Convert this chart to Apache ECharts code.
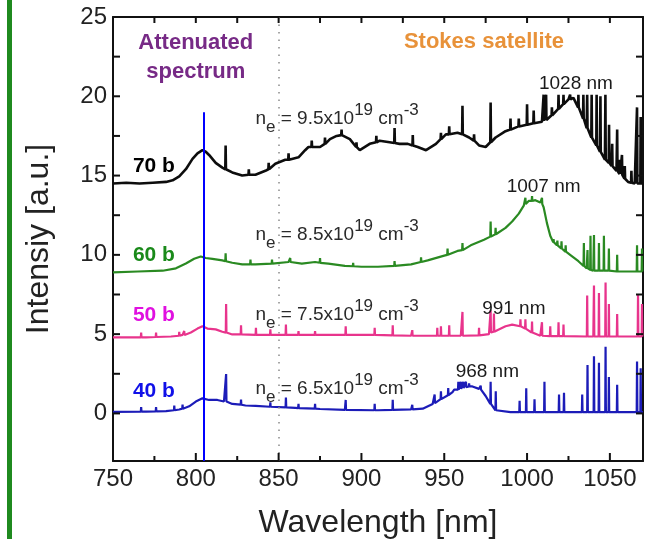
<!DOCTYPE html>
<html>
<head>
<meta charset="utf-8">
<script src="https://cdn.jsdelivr.net/npm/echarts@6/dist/echarts.min.js"></script>
<style>
  html, body { margin: 0; padding: 0; background: #fff; }
  #chart { width: 656px; height: 539px; }
</style>
</head>
<body>
<div id="chart"></div>
<script>
// Emission spectra at four backing pressures (shifted vertically).
// Each spectrum: a smooth continuum [wavelength nm, intensity] plus
// narrow emission lines [wavelength nm, continuum level, line top].

const xTickLabels = [750, 800, 850, 900, 950, 1000, 1050];
const yTickLabels = [0, 5, 10, 15, 20, 25];
const xMinorTicks = [775, 825, 875, 925, 975, 1025];
const yTicks = [0, 2.5, 5, 7.5, 10, 12.5, 15, 17.5, 20, 22.5];

const p70Continuum = [[750,14.5],[758,14.55],[766,14.5],[774,14.55],[782,14.6],[786,14.7],[790,14.95],[794,15.4],[798,16.05],[801,16.4],[804,16.6],[806,16.5],[808,16.3],[812,15.8],[816,15.5],[822,15.2],[828,15.0],[836,15.05],[842,15.3],[848,15.75],[854,16.0],[858,16.05],[862,16.15],[866,16.6],[868,16.8],[875,16.8],[881,17.3],[885,17.5],[888,17.55],[893,17.3],[899,16.6],[905,17.0],[911,17.2],[917,17.1],[923,17.0],[928,17.0],[934,16.8],[939,16.6],[945,17.0],[951,17.6],[958,17.7],[965,17.4],[971,16.9],[975,16.8],[981,17.4],[987,17.8],[995,18.1],[1002,18.25],[1009,18.4],[1015,18.8],[1019,19.2],[1025,19.8],[1028,19.9],[1031,19.3],[1034,18.6],[1036,18.0],[1039,17.4],[1042,16.9],[1044,16.5],[1047,16.0],[1051,15.6],[1054,15.3],[1057,15.05],[1061,14.6],[1065,14.5],[1070,14.5]];
const p70Lines = [[818,15.4,16.9],[832,15.05,15.4],[844,15.4,15.8],[856,16.0,16.4],[870,16.8,17.2],[878,17.0,17.4],[888,17.55,17.9],[897,16.8,17.1],[909,17.1,17.5],[920,17.05,18.0],[931,16.9,17.55],[948,17.3,17.7],[953,17.6,18.1],[961,17.6,19.4],[968,17.2,17.6],[978,17.1,19.6],[990,17.9,18.6],[995,18.1,18.6],[1000,18.2,19.5],[1004,18.3,19.1],[1010,18.45,20.1],[1011.5,18.5,20.1],[1015,18.8,19.3],[1019,19.2,20.1],[1022,19.5,20.1],[1026,19.8,20.1],[1031,19.3,20.1],[1034,18.6,20.1],[1036.3,18.0,20.1],[1039,17.4,20.1],[1042,16.9,20.1],[1044.3,16.5,20.0],[1047.3,16.0,20.1],[1049.5,15.8,18.2],[1051.4,15.6,17.0],[1054.4,15.3,17.9],[1056,15.1,16.0],[1057.3,15.05,16.3],[1059,14.8,15.6],[1063,14.55,15.3],[1066.4,14.5,19.3],[1068.6,14.5,18.7]];

const p60Continuum = [[750,8.9],[765,8.95],[780,9.0],[788,9.15],[794,9.45],[799,9.75],[803,9.9],[806,9.8],[810,9.75],[816,9.65],[822,9.5],[828,9.4],[836,9.4],[846,9.45],[856,9.55],[864,9.45],[872,9.55],[880,9.45],[890,9.3],[900,9.25],[910,9.25],[920,9.3],[930,9.4],[940,9.65],[950,9.95],[958,10.25],[966,10.6],[974,10.95],[982,11.35],[987,11.7],[991,12.1],[995,12.6],[998,13.1],[1001,13.4],[1005,13.45],[1008,13.3],[1010,13.0],[1012,12.0],[1014,11.2],[1018,10.6],[1022,10.3],[1026,10.0],[1031,9.6],[1036,9.15],[1040,9.0],[1055,8.95],[1070,8.95]];
const p60Lines = [[818,9.6,10.1],[833,9.4,9.7],[846,9.45,9.7],[857,9.55,9.8],[875,9.5,9.8],[895,9.28,9.5],[920,9.3,9.6],[936,9.55,9.85],[952,10.0,10.4],[961,10.3,10.75],[978,11.15,12.1],[981,11.3,11.7],[999,13.2,13.6],[1003,13.4,13.7],[1009,13.2,13.6],[1016,10.8,11.0],[1018.3,10.6,10.9],[1020.8,10.4,10.85],[1023.3,10.2,10.6],[1034.3,9.3,10.75],[1036.5,9.15,10.3],[1038.3,9.05,11.2],[1040.4,9.0,11.25],[1043.4,9.0,10.75],[1046.4,9.0,11.2],[1049.4,9.0,10.4],[1054.4,8.95,10.0],[1066.4,8.95,10.6],[1069.4,8.95,10.4]];

const p50Continuum = [[750,4.8],[770,4.8],[785,4.85],[792,4.95],[797,5.1],[801,5.35],[804,5.5],[807,5.35],[812,5.3],[816,5.15],[822,4.98],[840,4.95],[870,4.95],[900,4.95],[930,4.9],[960,4.9],[972,4.92],[977,5.0],[982,5.25],[987,5.5],[991,5.6],[996,5.5],[1000,5.3],[1004,5.0],[1008,4.9],[1040,4.85],[1070,4.85]];
const p50Lines = [[767,4.8,5.1],[776,4.82,5.1],[790,4.9,5.15],[793,4.95,5.2],[818.3,5.1,6.9],[827.3,4.98,5.56],[836.3,4.96,5.4],[845,4.95,5.3],[854.4,4.95,5.6],[862,4.95,5.2],[872,4.95,5.2],[890.5,4.95,5.5],[908,4.95,5.4],[918.9,4.92,5.56],[930.7,4.9,5.25],[945.8,4.9,5.4],[948,4.9,5.5],[953,4.9,5.56],[961,4.9,6.4],[971,4.92,5.4],[978,5.1,6.5],[980,5.15,6.3],[996,5.5,5.94],[999,5.35,5.94],[1003,5.1,5.8],[1009,4.9,5.75],[1014,4.88,5.5],[1019,4.87,5.75],[1022,4.87,5.6],[1036.3,4.85,7.44],[1040.4,4.85,8.06],[1043.4,4.85,7.6],[1047.4,4.85,8.25],[1049.4,4.85,6.9],[1054.4,4.85,6.27],[1067,4.85,7.52],[1069.4,4.85,6.9]];

const p40Continuum = [[750,0.1],[770,0.12],[782,0.15],[790,0.25],[796,0.45],[800,0.75],[804,0.95],[808,0.85],[813,0.85],[817,0.75],[822,0.6],[830,0.5],[845,0.42],[860,0.35],[875,0.28],[890,0.22],[910,0.2],[930,0.25],[937,0.3],[943,0.6],[949,1.0],[955,1.35],[961,1.6],[967,1.7],[971,1.55],[975,1.1],[978,0.6],[981,0.2],[990,0.08],[1070,0.08]];
const p40Lines = [[767,0.12,0.4],[776,0.13,0.4],[787,0.2,0.5],[792,0.3,0.55],[818.3,0.75,2.48],[827.3,0.55,0.88],[836.3,0.48,0.6],[845,0.42,0.7],[854.4,0.38,1.0],[862,0.34,0.6],[872,0.3,0.6],[890.5,0.22,0.85],[908,0.2,0.6],[918.9,0.22,0.86],[930.7,0.25,0.55],[944.2,0.65,1.19],[948,0.9,1.4],[952.4,1.15,1.6],[956,1.4,1.5],[958.5,1.5,2.0],[960,1.55,2.0],[961.5,1.6,2.0],[963.1,1.65,2.0],[965,1.7,1.9],[972,1.5,1.75],[978,0.6,2.0],[981.1,0.2,1.4],[995.5,0.08,0.8],[999.5,0.08,1.58],[1004.5,0.08,0.9],[1010.5,0.08,2.0],[1019.3,0.08,1.2],[1022.3,0.08,1.3],[1033.3,0.08,1.2],[1036.5,0.08,3.06],[1040.4,0.08,3.6],[1043.4,0.08,3.2],[1047.4,0.08,4.2],[1049.4,0.08,2.3],[1054.4,0.08,1.8],[1066.4,0.08,3.27],[1068.6,0.08,2.85]];

const pressures = ['70 b', '60 b', '50 b', '40 b'];
const densities = ['9.5', '8.5', '7.5', '6.5'];
const peakLabels = ['1028 nm', '1007 nm', '991 nm', '968 nm'];

// Merge continuum samples and narrow lines into one polyline
function buildSpectrum(continuum, lines) {
  const pts = continuum.map(p => [p[0], p[1]]);
  lines.forEach(([w, b, t]) => {
    pts.push([w - 0.2, b], [w, t], [w + 0.2, b]);
  });
  pts.sort((a, b) => a[0] - b[0]);
  return pts;
}

const FONT = '"Liberation Sans", Arial, Helvetica, sans-serif';
const colors = ['#0d0d0d', '#2a8a22', '#e8348c', '#1c1cb8'];
const tagColors = ['#000000', '#1a8a1a', '#e010e0', '#1010e8'];
const spectra = [
  buildSpectrum(p70Continuum, p70Lines),
  buildSpectrum(p60Continuum, p60Lines),
  buildSpectrum(p50Continuum, p50Lines),
  buildSpectrum(p40Continuum, p40Lines)
];

// Anchors (data coordinates) for the text notes
const tagY = [15.6, 10.0, 6.2, 1.4];
const neY = [18.56, 11.25, 6.25, 1.56];
const peakAt = [[1029.5, 20.8], [1010, 14.3], [992, 6.6], [976, 2.6]];

const notes = [];
pressures.forEach((t, i) => {
  notes.push({
    value: [774.7, tagY[i]],
    label: { show: true, position: 'inside', formatter: t,
      fontFamily: FONT, fontSize: 21, fontWeight: 'bold', color: tagColors[i] }
  });
  notes.push({
    value: [836, neY[i]],
    label: { show: true, position: 'right', distance: 0, align: 'left',
      formatter: '{n|n}{sub|e}{n| = ' + densities[i] + 'x10}{sup|19}{n| cm}{sup|-3}',
      rich: {
        n: { fontFamily: FONT, fontSize: 19, color: '#2a2a2a', lineHeight: 34, verticalAlign: 'middle' },
        sub: { fontFamily: FONT, fontSize: 17, color: '#2a2a2a', lineHeight: 16, verticalAlign: 'bottom' },
        sup: { fontFamily: FONT, fontSize: 17, color: '#2a2a2a', lineHeight: 16, verticalAlign: 'top' }
      } }
  });
  notes.push({
    value: peakAt[i],
    label: { show: true, position: 'inside', formatter: peakLabels[i],
      fontFamily: FONT, fontSize: 19, color: '#1a1a1a' }
  });
});
notes.push({
  value: [800, 22.47],
  label: { show: true, position: 'inside', formatter: 'Attenuated\nspectrum',
    fontFamily: FONT, fontSize: 22, fontWeight: 'bold', color: '#772a86', lineHeight: 29, align: 'center' }
});
notes.push({
  value: [974, 23.44],
  label: { show: true, position: 'inside', formatter: 'Stokes satellite',
    fontFamily: FONT, fontSize: 22, fontWeight: 'bold', color: '#e8923a' }
});

const G = { left: 113, right: 13, top: 17, bottom: 78 };
const X_MIN = 750, X_MAX = 1070, Y_MIN = -3, Y_MAX = 25;
const axisLineStyle = { color: '#111', width: 2 };
const greenBar = {
  type: 'rect', left: 7, top: 0, shape: { width: 5, height: 539 },
  style: { fill: '#1f8a1f' }, silent: true
};

const chart = echarts.init(document.getElementById('chart'), null, { renderer: 'canvas' });
chart.setOption({
  animation: false,
  backgroundColor: '#fff',
  graphic: [greenBar],
  grid: [Object.assign({ outerBoundsMode: 'none', containLabel: false }, G)],
  xAxis: [
    {
      type: 'value', position: 'bottom', min: X_MIN, max: X_MAX, interval: 50,
      name: 'Wavelength [nm]', nameLocation: 'middle', nameGap: 46,
      nameTextStyle: { fontFamily: FONT, fontSize: 32, color: '#222' },
      axisLine: { show: true, onZero: false, lineStyle: axisLineStyle },
      axisTick: { show: false },
      axisLabel: { show: true, customValues: xTickLabels, margin: 6, formatter: v => String(v),
        fontFamily: FONT, fontSize: 24, color: '#222' },
      splitLine: { show: false }
    },
    {
      type: 'value', position: 'top', min: X_MIN, max: X_MAX,
      axisLine: { show: true, onZero: false, lineStyle: axisLineStyle },
      axisTick: { show: false }, axisLabel: { show: false }, splitLine: { show: false }
    }
  ],
  yAxis: [
    {
      type: 'value', position: 'left', min: Y_MIN, max: Y_MAX,
      name: 'Intensiy [a.u.]', nameLocation: 'middle', nameGap: 58, nameRotate: 90,
      nameTextStyle: { fontFamily: FONT, fontSize: 32, color: '#222' },
      axisLine: { show: true, onZero: false, lineStyle: axisLineStyle },
      axisTick: { show: false },
      axisLabel: { show: true, customValues: yTickLabels, margin: 6,
        fontFamily: FONT, fontSize: 24, color: '#222' },
      splitLine: { show: false }
    },
    {
      type: 'value', position: 'right', min: Y_MIN, max: Y_MAX,
      axisLine: { show: true, onZero: false, lineStyle: axisLineStyle },
      axisTick: { show: false }, axisLabel: { show: false }, splitLine: { show: false }
    }
  ],
  series: spectra.map((data, i) => ({
    type: 'line', xAxisIndex: 0, yAxisIndex: 0, data: data,
    showSymbol: false, symbol: 'none', silent: true,
    lineStyle: { color: colors[i], width: i === 0 ? 2.6 : 2.2 },
    z: 3
  })).concat([
    {
      type: 'line', xAxisIndex: 0, yAxisIndex: 0, data: [], silent: true, z: 4,
      markLine: {
        silent: true, symbol: ['none', 'none'], label: { show: false },
        data: [
          [{ coord: [805, Y_MIN], lineStyle: { color: '#0000ff', width: 2, type: 'solid' } }, { coord: [805, 19] }],
          { xAxis: 850, lineStyle: { color: '#8a8a8a', width: 1.5, type: [1.5, 6] } }
        ]
      }
    },
    {
      type: 'scatter', xAxisIndex: 0, yAxisIndex: 0, symbolSize: 0, silent: true, z: 5,
      itemStyle: { opacity: 1 },
      data: notes
    }
  ])
});

// Inward tick marks on all four sides, placed through the axes' own scales
const toPx = p => chart.convertToPixel({ xAxisIndex: 0, yAxisIndex: 0 }, p);
const tickLines = [];
function tick(at, dx, dy) {
  const p = toPx(at);
  tickLines.push({
    type: 'line', silent: true, z: 100,
    shape: { x1: p[0], y1: p[1], x2: p[0] + dx, y2: p[1] + dy },
    style: { stroke: '#111', lineWidth: 2 }
  });
}
xTickLabels.forEach(v => tick([v, Y_MIN], 0, -8));
xMinorTicks.forEach(v => tick([v, Y_MIN], 0, -5));
xTickLabels.concat(xMinorTicks).forEach(v => { if (v > X_MIN) tick([v, Y_MAX], 0, 6); });
yTicks.forEach(v => { tick([X_MIN, v], 7, 0); tick([X_MAX, v], -7, 0); });

chart.setOption({ graphic: [greenBar].concat(tickLines) }, { replaceMerge: ['graphic'] });
</script>
</body>
</html>
